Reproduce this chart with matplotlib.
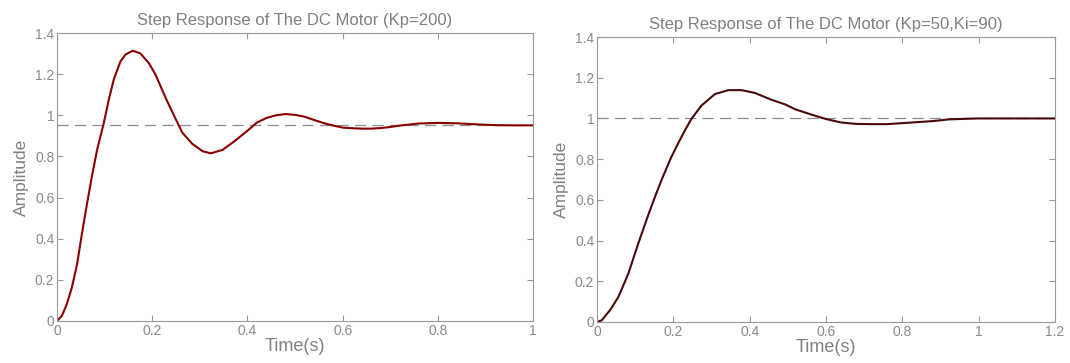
import matplotlib

matplotlib.use("Agg")
import matplotlib.pyplot as plt  # noqa: E402

plt.rcParams.update(
    {
        "font.family": ["Liberation Sans", "DejaVu Sans"],
        "font.size": 10,
        "text.color": "#808080",
        "axes.labelcolor": "#808080",
        "axes.edgecolor": "#9a9a9a",
        "xtick.color": "#9a9a9a",
        "ytick.color": "#9a9a9a",
        "xtick.labelcolor": "#8a8a8a",
        "ytick.labelcolor": "#8a8a8a",
        "xtick.direction": "in",
        "ytick.direction": "in",
        "xtick.top": True,
        "ytick.right": True,
    }
)

# P controller, Kp=200
t_p = [0, 0.01, 0.0205, 0.031, 0.042, 0.052, 0.063, 0.073, 0.084, 0.098,
       0.108, 0.119, 0.133, 0.144, 0.159, 0.175, 0.193, 0.207, 0.228, 0.246,
       0.263, 0.284, 0.306, 0.323, 0.348, 0.376, 0.40, 0.42, 0.44, 0.46,
       0.48, 0.50, 0.52, 0.54, 0.56, 0.58, 0.60, 0.62, 0.64, 0.66, 0.68,
       0.70, 0.72, 0.74, 0.76, 0.80, 0.84, 0.88, 0.92, 0.96, 1.00]
y_p = [0, 0.024, 0.081, 0.161, 0.274, 0.42, 0.57, 0.70, 0.83, 0.96,
       1.069, 1.173, 1.261, 1.296, 1.314, 1.301, 1.253, 1.197, 1.085, 0.997,
       0.916, 0.861, 0.825, 0.815, 0.832, 0.88, 0.925, 0.965, 0.987, 1.0,
       1.006, 1.002, 0.993, 0.977, 0.962, 0.95, 0.94, 0.937, 0.935, 0.935,
       0.938, 0.943, 0.95, 0.955, 0.96, 0.963, 0.961, 0.956, 0.952, 0.951,
       0.951]
final_p = 0.952

# PI controller, Kp=50, Ki=90
t_pi = [0, 0.012, 0.034, 0.056, 0.082, 0.108, 0.134, 0.152, 0.169, 0.194,
        0.213, 0.231, 0.248, 0.274, 0.309, 0.344, 0.379, 0.414, 0.458,
        0.493, 0.519, 0.56, 0.60, 0.64, 0.68, 0.72, 0.76, 0.80, 0.84, 0.88,
        0.92, 0.96, 1.00, 1.10, 1.20]
y_pi = [0, 0.008, 0.058, 0.123, 0.238, 0.386, 0.525, 0.616, 0.698, 0.808,
        0.88, 0.944, 1.0, 1.064, 1.12, 1.139, 1.139, 1.125, 1.091, 1.069,
        1.045, 1.02, 0.997, 0.98, 0.973, 0.972, 0.972, 0.977, 0.982, 0.987,
        0.995, 0.998, 1.0, 1.0, 1.0]
final_pi = 1.0

fig = plt.figure(figsize=(10.7, 3.63), dpi=100)
ax1 = fig.add_axes([0.0533, 0.116, 0.445, 0.793])
ax2 = fig.add_axes([0.558, 0.113, 0.428, 0.785])

panels = [
    (ax1, t_p, y_p, final_p, 1.0, "#8b0000",
     "Step Response of The DC Motor (Kp=200)",
     [0, 0.2, 0.4, 0.6, 0.8, 1.0], ["0", "0.2", "0.4", "0.6", "0.8", "1"]),
    (ax2, t_pi, y_pi, final_pi, 1.2, "#4a0808",
     "Step Response of The DC Motor (Kp=50,Ki=90)",
     [0, 0.2, 0.4, 0.6, 0.8, 1.0, 1.2],
     ["0", "0.2", "0.4", "0.6", "0.8", "1", "1.2"]),
]
yt = [0, 0.2, 0.4, 0.6, 0.8, 1.0, 1.2, 1.4]
ytl = ["0", "0.2", "0.4", "0.6", "0.8", "1", "1.2", "1.4"]

for ax, t, y, yf, tmax, col, title, xt, xtl in panels:
    ax.axhline(yf, color="#8c8c8c", lw=0.9, ls=(0, (9, 5)))
    ax.plot(t, y, color=col, lw=1.5)
    ax.set_xlim(0, tmax)
    ax.set_ylim(0, 1.4)
    ax.set_xticks(xt, xtl)
    ax.set_yticks(yt, ytl)
    ax.tick_params(length=4, width=0.8, labelsize=10, pad=2)
    ax.set_xlabel("Time(s)", fontsize=13, labelpad=0)
    ax.set_ylabel("Amplitude", fontsize=12.5, labelpad=4)
    ax.set_title(title, fontsize=12, pad=6)

fig.savefig("out.png", dpi=100)
